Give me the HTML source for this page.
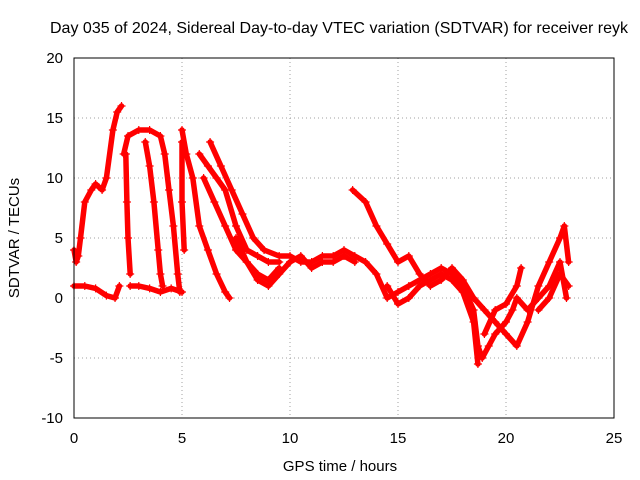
<!DOCTYPE html>
<html><head><meta charset="utf-8">
<style>
body{margin:0;background:#fff;}
svg{display:block;font-family:"Liberation Sans",sans-serif;}
</style></head>
<body>
<svg id="chart" width="640" height="480" viewBox="0 0 640 480">
<rect width="640" height="480" fill="#fff"/>
<text x="339" y="33" font-size="16" text-anchor="middle" textLength="578" lengthAdjust="spacingAndGlyphs">Day 035 of 2024, Sidereal Day-to-day VTEC variation (SDTVAR) for receiver reyk</text>
<g id="grid"></g>
<g id="series"></g>
<rect x="74" y="58" width="540" height="360" fill="none" stroke="#000" stroke-width="1"/>
<g id="ticks"></g>
<text x="340" y="471" font-size="15" text-anchor="middle">GPS time / hours</text>
<text x="19" y="238" font-size="15" text-anchor="middle" transform="rotate(-90 19 238)">SDTVAR / TECUs</text>
</svg>
<script>
const xTicks=[0,5,10,15,20,25];
const yTicks=[-10,-5,0,5,10,15,20];
const trackA=[[0,4],[0.1,3],[0.2,3.5],[0.3,5],[0.5,8],[0.8,9],[1.0,9.5],[1.3,9],[1.5,10],[1.8,14],[2.0,15.5],[2.2,16]];
const trackB=[[0,1],[0.5,1],[1.0,0.8],[1.5,0.2],[1.9,0],[2.1,1]];
const trackC=[[2.3,12],[2.5,13.5],[3,14],[3.5,14],[4,13.5],[4.2,12],[4.4,9],[4.6,6],[4.8,2],[4.9,0.5]];
const trackD=[[2.6,1],[3,1],[3.5,0.8],[4,0.5],[4.5,0.8],[5,0.5]];
const trackE=[[3.3,13],[3.5,11],[3.7,8],[3.9,4],[4.0,2],[4.1,1]];
const trackE2=[[2.4,12],[2.45,8],[2.5,5],[2.6,2]];
const trackF=[[5,14],[5.2,12],[5.5,10],[5.8,6],[6.2,4],[6.6,2],[7,0.5],[7.2,0]];
const trackF2=[[5,13],[5,8],[5.1,4]];
const trackG=[[5.8,12],[6.2,11],[6.6,10],[7.0,9],[7.5,6],[8,4],[8.5,3.5],[9,3],[9.5,3]];
const trackH=[[6.3,13],[6.8,11],[7.3,9],[7.8,7],[8.3,5],[8.8,4],[9.5,3.5],[10,3.5],[10.5,3],[11,3],[11.5,3.5],[12,3.5],[12.5,4],[13,3.5],[13.5,3],[14,2],[14.5,0],[15,0.5],[15.5,1],[16,1.5],[16.5,2],[17,2.5],[17.5,2],[18,1],[18.5,-1],[18.7,-4],[18.9,-5],[19.2,-4],[19.5,-3],[20,-2],[20.3,-1],[20.5,0],[21,-1],[21.5,0],[22,1],[22.5,3],[22.8,0]];
const trackI=[[7.5,5],[8,3],[8.5,1.5],[9,1],[9.5,2],[10,3]];
const trackJ=[[12.9,9],[13.5,8],[14,6],[14.5,4.5],[15,3],[15.5,3.5],[16,2],[16.5,1],[17,1.5],[17.5,2.5],[18,1.5],[18.5,0],[19,-1],[19.5,-2],[20,-3],[20.5,-4],[21,-2],[21.5,1],[22,3],[22.5,5],[22.7,6],[22.9,3]];
const trackK=[[19,-3],[19.5,-1],[20,-0.5],[20.5,1],[20.7,2.5]];
const trackL=[[21.5,-1],[22,0],[22.5,2],[22.9,1]];
const trackM=[[6,10],[6.5,8],[7,6],[7.5,4],[8,3],[8.5,2],[9,1.5],[9.5,2.5]];
const trackN=[[10,3],[10.5,3.5],[11,2.5],[11.5,3],[12,3],[12.5,3.5],[13,3]];
const trackO=[[14.5,1],[15,-0.5],[15.5,0],[16,1],[16.5,1.5],[17,2],[17.5,1.5],[18,0.5],[18.5,-2],[18.7,-5.5]];
const tracks=[trackA,trackB,trackC,trackD,trackE,trackE2,trackF,trackF2,trackG,trackH,trackI,trackJ,trackK,trackL,trackM,trackN,trackO];

const NS="http://www.w3.org/2000/svg";
const X=v=>74+v*(540/25);
const Y=v=>298-v*12;
const grid=document.getElementById('grid'),ticks=document.getElementById('ticks'),ser=document.getElementById('series');
function mk(tag,attrs,parent){const e=document.createElementNS(NS,tag);for(const k in attrs)e.setAttribute(k,attrs[k]);parent.appendChild(e);return e;}
xTicks.forEach(t=>{
  if(t>0&&t<25){const g=mk('line',{x1:X(t),x2:X(t),y1:58,y2:418,stroke:'#a0a0a0','stroke-dasharray':'1,3'},grid);
  
  }
  const l=mk('text',{x:X(t),y:443,'font-size':15,'text-anchor':'middle'},ticks);l.textContent=t;
  
  
});
yTicks.forEach(t=>{
  if(t>-10&&t<20){const g=mk('line',{x1:74,x2:614,y1:Y(t),y2:Y(t),stroke:'#a0a0a0','stroke-dasharray':'1,3'},grid);
  
  }
  const l=mk('text',{x:63,y:Y(t)+5,'font-size':15,'text-anchor':'end'},ticks);l.textContent=t;
  
  
});
tracks.forEach(tr=>{
  const d=tr.map((p,i)=>(i?'L':'M')+X(p[0]).toFixed(1)+' '+Y(p[1]).toFixed(1)).join(' ');
  const p=mk('path',{d:d,fill:'none',stroke:'#ff0000','stroke-width':5.5,'stroke-linejoin':'round','stroke-linecap':'round'},ser);
  
  
  tr.forEach(pt=>{
    const m=mk('path',{d:`M${X(pt[0])-4} ${Y(pt[1])}h8M${X(pt[0])} ${Y(pt[1])-4}v8`,stroke:'#ff0000','stroke-width':1.2},ser);
    
    
  });
});
</script>
</body></html>
